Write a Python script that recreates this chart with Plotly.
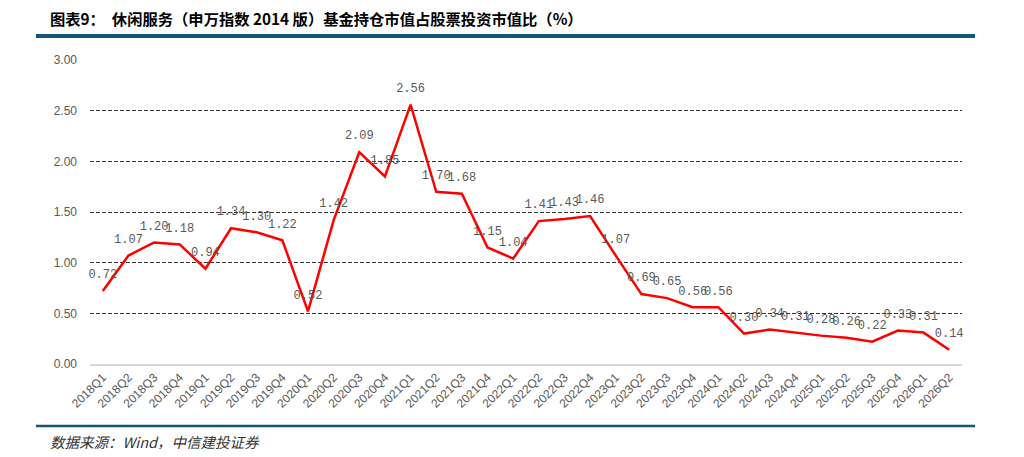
import plotly.graph_objs as go

# Categories and values
quarters = ['2018Q1', '2018Q2', '2018Q3', '2018Q4',
            '2019Q1', '2019Q2', '2019Q3', '2019Q4',
            '2020Q1', '2020Q2', '2020Q3', '2020Q4',
            '2021Q1', '2021Q2', '2021Q3', '2021Q4',
            '2022Q1', '2022Q2', '2022Q3', '2022Q4',
            '2023Q1', '2023Q2', '2023Q3', '2023Q4',
            '2024Q1', '2024Q2', '2024Q3', '2024Q4',
            '2025Q1', '2025Q2', '2025Q3', '2025Q4',
            '2026Q1', '2026Q2']
ratio = [0.72, 1.07, 1.20, 1.18,
         0.94, 1.34, 1.30, 1.22,
         0.52, 1.42, 2.09, 1.85,
         2.56, 1.70, 1.68, 1.15,
         1.04, 1.41, 1.43, 1.46,
         1.07, 0.69, 0.65, 0.56,
         0.56, 0.30, 0.34, 0.31,
         0.28, 0.26, 0.22, 0.33,
         0.31, 0.14]
y_ticks = [0, 0.5, 1.0, 1.5, 2.0, 2.5, 3.0]

title_text = '图表9：  休闲服务（申万指数 2014 版）基金持仓市值占股票投资市值比（%）'
source_text = '数据来源：Wind，中信建投证券'

fig = go.Figure()

# Line with value labels (transparent markers push the labels up a bit)
fig.add_trace(
    go.Scatter(x=quarters,
               y=ratio,
               mode='lines+markers+text',
               text=['%.2f' % v for v in ratio],
               textposition='top center',
               textfont=dict(family='Liberation Mono', size=12, color='#595959'),
               marker=dict(size=14, color='rgba(0,0,0,0)'),
               line=dict(color='#FF0000', width=2.5),
               cliponaxis=False,
               showlegend=False))

# page body has an 8px margin, so the figure is sized/offset for it
fig.update_layout(
    width=1008, height=441,
    margin=dict(l=82, r=54, t=52, b=85),
    paper_bgcolor='white',
    plot_bgcolor='white',
    font=dict(family='Liberation Sans', size=11, color='#595959'),
    xaxis=dict(type='category',
               range=[-0.5, len(quarters) - 0.5],
               tickangle=-45,
               automargin=False,
               showgrid=False,
               showline=True,
               linecolor='#D9D9D9',
               linewidth=1.5,
               ticks='',
               tickfont=dict(family='Liberation Sans', size=12, color='#595959')),
    yaxis=dict(range=[0, 3],
               tickvals=y_ticks,
               tickformat='.2f',
               automargin=False,
               showgrid=True,
               gridcolor='#333333',
               griddash='4px,2px',
               gridwidth=1,
               zeroline=False,
               showline=False,
               ticks='',
               ticklabelstandoff=12,
               tickfont=dict(family='Liberation Sans', size=12, color='#595959')),
)

# Header / footer bars
fig.add_shape(type='line', xref='paper', yref='paper',
              x0=-0.062, x1=1.015, y0=1.079, y1=1.079,
              line=dict(color='#13557A', width=4))
fig.add_shape(type='line', xref='paper', yref='paper',
              x0=-0.062, x1=1.015, y0=-0.204, y1=-0.204,
              line=dict(color='#13557A', width=2.5))

fig.add_annotation(text='<b>' + title_text + '</b>',
                   xref='paper', yref='paper', x=-0.048, y=1.138,
                   xanchor='left', yanchor='middle', showarrow=False,
                   font=dict(family='Noto Sans CJK SC', size=15.3, color='#000000'))
fig.add_annotation(text='<i>' + source_text + '</i>',
                   xref='paper', yref='paper', x=-0.048, y=-0.254,
                   xanchor='left', yanchor='middle', showarrow=False,
                   font=dict(family='Noto Sans CJK SC', size=14.5, color='#333333'))

fig.write_html("out.html")
